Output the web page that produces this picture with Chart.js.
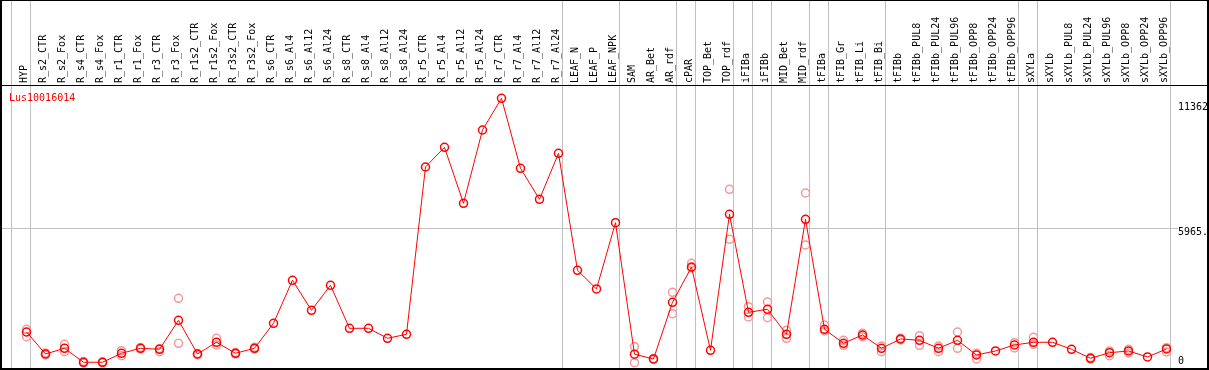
<!DOCTYPE html>
<html><head><meta charset="utf-8">
<script src="https://cdn.jsdelivr.net/npm/chart.js@4/dist/chart.umd.min.js"></script>
<style>html,body{margin:0;padding:0;background:#fff;overflow:hidden}#wrap{position:relative;width:1209px;height:370px}</style>
</head><body><div id="wrap"><canvas id="c" width="1209" height="370"></canvas></div>
<script>
const categories = ['HYP','R_s2_CTR','R_s2_Fox','R_s4_CTR','R_s4_Fox','R_r1_CTR','R_r1_Fox','R_r3_CTR','R_r3_Fox','R_r1s2_CTR','R_r1s2_Fox','R_r3s2_CTR','R_r3s2_Fox','R_s6_CTR','R_s6_Al4','R_s6_Al12','R_s6_Al24','R_s8_CTR','R_s8_Al4','R_s8_Al12','R_s8_Al24','R_r5_CTR','R_r5_Al4','R_r5_Al12','R_r5_Al24','R_r7_CTR','R_r7_Al4','R_r7_Al12','R_r7_Al24','LEAF_N','LEAF_P','LEAF_NPK','SAM','AR_Bet','AR_rdf','cPAR','TOP_Bet','TOP_rdf','iFIBa','iFIBb','MID_Bet','MID_rdf','tFIBa','tFIB_Gr','tFIB_Li','tFIB_Bi','tFIBb','tFIBb_PUL8','tFIBb_PUL24','tFIBb_PUL96','tFIBb_OPP8','tFIBb_OPP24','tFIBb_OPP96','sXYLa','sXYLb','sXYLb_PUL8','sXYLb_PUL24','sXYLb_PUL96','sXYLb_OPP8','sXYLb_OPP24','sXYLb_OPP96'];
const meanValues = [1660,747,984,403,403,776,984,942,2146,747,1233,776,984,2022,3807,2561,3599,1814,1814,1399,1565,8510,9328,7003,10046,11362,8456,7169,9079,4222,3446,6198,739,540,2893,4359,901,6547,2478,2603,1565,6339,1773,1191,1536,984,1370,1316,984,1316,706,872,1121,1233,1233,942,569,801,872,623,955];
const repHigh = [1773,789,1150,436,423,884,1017,976,3059,768,1399,809,1025,null,null,null,null,null,null,null,null,null,null,null,null,null,null,null,null,null,null,null,1050,560,3309,4512,null,7584,2711,2906,1731,7431,1951,1316,1607,1079,1400,1507,1079,1660,776,null,1216,1440,null,null,600,872,942,null,1009];
const repLow = [1465,706,843,374,382,677,955,843,1191,706,1121,747,955,null,null,null,null,null,null,null,null,null,null,null,null,null,null,null,null,null,null,null,386,520,2420,4317,null,5509,2283,2254,1399,5272,1702,1108,1465,843,1330,1108,843,984,540,null,996,1150,null,null,540,677,789,null,830];
const yTickValues = [0, 5965, 11362];
const yTickLabels = ['0', '5965.', '11362'];
const groupEnds = [-1, 0, 28, 31, 34, 35, 37, 38, 39, 41, 42, 45, 52, 53, 60];
const geneId = 'Lus10016014';

const MONO = "'DejaVu Sans Mono', monospace";
const XMIN = -1.2895, XMAX = 60.237;
const pts = arr => arr.map((v, i) => ({x: i, y: v})).filter(p => p.y !== null);
const noPad = s => { s.paddingLeft = 0; s.paddingRight = 0; s.paddingTop = 0; s.paddingBottom = 0; };

const framePlugin = {
  id: 'frame',
  beforeDatasetsDraw(chart) {
    const {ctx, scales: {x}} = chart;
    ctx.save();
    ctx.fillStyle = '#c0c0c0';
    groupEnds.forEach(g => {
      const px = Math.round(x.getPixelForValue(g) + 3.5);
      ctx.fillRect(px, 0, 1, chart.height);
    });
    ctx.restore();
  },
  afterDraw(chart) {
    const {ctx, chartArea} = chart;
    const W = chart.width, H = chart.height;
    ctx.save();
    ctx.fillStyle = '#000';
    ctx.fillRect(0, 0, W, 1);
    ctx.fillRect(0, chartArea.top, W, 1);
    ctx.fillRect(0, H - 2, W, 2);
    ctx.fillRect(0, 0, 2, H);
    ctx.fillRect(W - 2, 0, 2, H);
    ctx.fillStyle = '#ff0000';
    ctx.font = "10px " + MONO;
    ctx.textBaseline = 'alphabetic';
    ctx.textAlign = 'left';
    ctx.fillText(geneId, chartArea.left + 7, chartArea.top + 16);
    ctx.restore();
  }
};

new Chart(document.getElementById('c'), {
  type: 'line',
  data: {
    datasets: [
      {label: geneId, data: pts(meanValues), borderColor: '#ff0000', borderWidth: 1, tension: 0,
       pointRadius: 4, pointBorderWidth: 1.5, pointBorderColor: '#ff0000', pointBackgroundColor: 'rgba(0,0,0,0)'},
      {label: 'rep high', data: pts(repHigh), showLine: false,
       pointRadius: 4, pointBorderWidth: 1.5, pointBorderColor: '#f29a9a', pointBackgroundColor: 'rgba(0,0,0,0)'},
      {label: 'rep low', data: pts(repLow), showLine: false,
       pointRadius: 4, pointBorderWidth: 1.5, pointBorderColor: '#f29a9a', pointBackgroundColor: 'rgba(0,0,0,0)'}
    ]
  },
  options: {
    responsive: false, animation: false, devicePixelRatio: 1,
    layout: {autoPadding: false, padding: {left: 2, right: 1, top: 0, bottom: 1}},
    plugins: {legend: {display: false}, tooltip: {enabled: false}, title: {display: false}},
    scales: {
      x: {type: 'linear', position: 'bottom', display: false, min: XMIN, max: XMAX, bounds: 'data'},
      xt: {type: 'linear', position: 'top', min: XMIN, max: XMAX, bounds: 'data',
        afterBuildTicks: s => { s.ticks = categories.map((c, i) => ({value: i})); },
        afterFit: s => { s.height = 85; noPad(s); },
        grid: {display: false, drawTicks: false}, border: {display: false},
        ticks: {autoSkip: false, minRotation: 90, maxRotation: 90, padding: 2, labelOffset: 10, color: '#000',
          font: {family: MONO, size: 10}, callback: v => categories[v]}},
      y: {type: 'linear', position: 'right', min: 124, max: 11914, bounds: 'data',
        afterBuildTicks: s => { s.ticks = yTickValues.map(v => ({value: v})); },
        afterFit: s => { s.width = 37; noPad(s); },
        border: {display: false},
        grid: {lineWidth: 1, drawTicks: true, tickLength: 7,
          color: ctx => (ctx.tick && ctx.tick.value === yTickValues[1]) ? '#c0c0c0' : 'rgba(0,0,0,0)'},
        ticks: {padding: 0, labelOffset: 4, color: '#000', autoSkip: false,
          font: ctx => {
            const v = ctx.tick ? ctx.tick.value : null;
            let lh = 1.2;
            if (v === yTickValues[0]) lh = 2.86;
            else if (v === yTickValues[yTickValues.length - 1]) lh = 1.04;
            return {family: MONO, size: 10, lineHeight: lh};
          },
          callback: v => {
            const i = yTickValues.indexOf(v);
            const t = yTickLabels[i];
            if (i === 0) return [t, ''];
            if (i === yTickValues.length - 1) return ['', t];
            return t;
          }}
      }
    }
  },
  plugins: [framePlugin]
});
</script>
</body></html>
